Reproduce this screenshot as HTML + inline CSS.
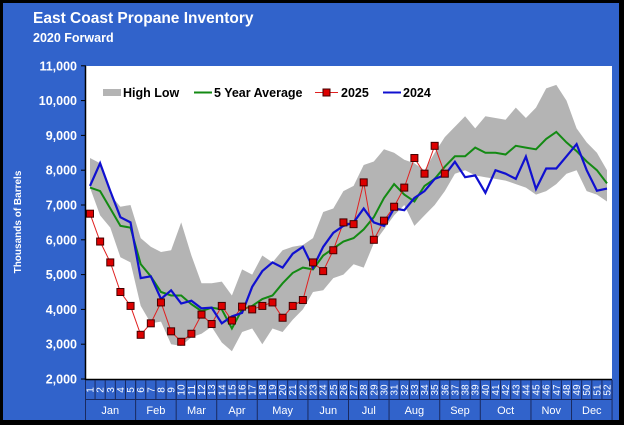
<!DOCTYPE html>
<html><head><meta charset="utf-8"><style>
html,body{margin:0;padding:0;background:#000;}
#c{position:absolute;left:0;top:0;width:624px;height:425px;}
</style></head><body>
<svg id="c" width="624" height="425" xmlns="http://www.w3.org/2000/svg" font-family="Liberation Sans, Arial, sans-serif">
<rect x="0" y="0" width="624" height="425" fill="#000"/>
<rect x="3" y="3" width="616" height="417" fill="#3163cb"/>
<text x="33" y="23" fill="#fff" font-size="15.5" font-weight="bold">East Coast Propane Inventory</text>
<text x="33" y="42" fill="#fff" font-size="12.5" font-weight="bold">2020 Forward</text>
<rect x="86" y="66" width="526" height="313" fill="#fff"/>
<g id="g"></g>
</svg>
<script>
var ns="http://www.w3.org/2000/svg",g=document.getElementById('g');
function el(t,a,txt){var e=document.createElementNS(ns,t);for(var k in a)e.setAttribute(k,a[k]);if(txt!=null)e.textContent=txt;g.appendChild(e);return e;}
function X(w){return 90+(w-1)*(517/51);}
function Y(v){return 379-(v-2)*34.8;}
var hi=[8.35,8.2,7.3,6.95,7.0,6.05,5.8,5.65,5.7,6.5,5.55,4.75,4.75,4.8,4.4,5.15,5.0,5.55,5.35,5.7,5.8,5.85,6.05,6.8,6.9,7.4,7.55,8.15,8.25,8.6,8.5,8.3,8.2,8.0,8.5,8.95,9.25,9.55,9.2,9.55,9.5,9.45,9.8,9.5,9.8,10.35,10.45,10.0,9.2,8.8,8.5,8.0];
var lo=[7.5,6.7,6.35,5.5,5.35,4.1,3.6,3.65,3.0,2.95,3.2,3.3,3.5,3.05,2.8,3.35,3.45,3.0,3.45,3.35,3.7,4.0,4.5,4.55,4.9,5.0,5.3,5.2,5.9,6.3,6.7,7.0,6.4,6.7,7.0,7.4,7.9,8.0,7.85,7.8,7.75,7.7,7.6,7.5,7.3,7.4,7.6,7.9,8.0,7.4,7.3,7.1];
var av=[7.5,7.4,6.9,6.4,6.35,5.3,4.95,4.5,4.4,4.4,4.15,3.95,4.05,4.0,3.45,4.0,4.1,4.3,4.4,4.75,5.05,5.2,5.15,5.55,5.75,5.95,6.05,6.3,6.65,7.2,7.6,7.3,7.1,7.55,7.75,8.1,8.4,8.4,8.65,8.5,8.5,8.45,8.7,8.65,8.6,8.9,9.1,8.8,8.55,8.25,8.0,7.62];
var r25=[6.75,5.95,5.35,4.5,4.1,3.27,3.6,4.2,3.37,3.07,3.3,3.85,3.58,4.1,3.68,4.08,4.0,4.1,4.2,3.76,4.1,4.27,5.35,5.1,5.7,6.5,6.45,7.65,6.0,6.55,6.95,7.5,8.35,7.9,8.7,7.9];
var b24=[7.55,8.2,7.4,6.65,6.5,4.9,4.95,4.3,4.55,4.17,4.25,4.03,4.05,3.6,3.8,3.9,4.65,5.1,5.35,5.2,5.6,5.8,5.2,5.8,6.2,6.4,6.5,6.9,6.5,6.4,6.9,6.85,7.2,7.4,7.75,7.86,8.24,7.8,7.85,7.35,8.0,7.9,7.75,8.39,7.46,8.05,8.05,8.4,8.75,8.0,7.41,7.47];
function pts(a){return a.map(function(v,i){return X(i+1).toFixed(1)+','+Y(v).toFixed(1);}).join(' ');}
var band=pts(hi)+' '+lo.map(function(v,i){return [i,v]}).reverse().map(function(p){return X(p[0]+1).toFixed(1)+','+Y(p[1]).toFixed(1)}).join(' ');
el('polygon',{points:band,fill:'#b4b4b4'});
el('polyline',{points:pts(av),fill:'none',stroke:'#138a13','stroke-width':2});
el('polyline',{points:pts(r25),fill:'none',stroke:'#e02020','stroke-width':1});
el('polyline',{points:pts(b24),fill:'none',stroke:'#1010d0','stroke-width':2.2});
r25.forEach(function(v,i){el('rect',{x:X(i+1)-3.5,y:Y(v)-3.5,width:7,height:7,fill:'#dd0000',stroke:'#400','stroke-width':1});});
// axes
el('line',{x1:85.5,y1:66,x2:85.5,y2:380,stroke:'#000','stroke-width':1.5});
for(var v=2;v<=11;v++){var y=Y(v);el('line',{x1:81,y1:y,x2:86,y2:y,stroke:'#000'});
el('text',{x:77,y:y+4.5,fill:'#fff','font-size':12.5,'font-weight':'bold','text-anchor':'end'},(v)+',000');}
el('text',{x:0,y:0,fill:'#fff','font-size':10,'font-weight':'bold','text-anchor':'middle',transform:'translate(21,222) rotate(-90)'},'Thousands of Barrels');
// x axis
el('line',{x1:85,y1:379.5,x2:612,y2:379.5,stroke:'#000','stroke-width':1.5});
var step=517/51;
for(var w=1;w<=52;w++){var xc=X(w);
el('line',{x1:xc+step/2,y1:380,x2:xc+step/2,y2:399,stroke:'#1a2a60','stroke-width':1});
el('text',{x:0,y:0,fill:'#fff','font-size':10,'text-anchor':'middle',transform:'translate('+(xc+3.5)+',390) rotate(-90)'},String(w));}
el('line',{x1:85,y1:399.5,x2:612,y2:399.5,stroke:'#1a2a60'});
var months=[['Jan',1,5],['Feb',6,9],['Mar',10,13],['Apr',14,17],['May',18,22],['Jun',23,26],['Jul',27,30],['Aug',31,35],['Sep',36,39],['Oct',40,44],['Nov',45,48],['Dec',49,52]];
months.forEach(function(m){var a=X(m[1])-step/2,b=X(m[2])+step/2;
el('line',{x1:b,y1:380,x2:b,y2:420,stroke:'#1a2a60'});
el('text',{x:(a+b)/2,y:414,fill:'#fff','font-size':11,'text-anchor':'middle'},m[0]);});
el('line',{x1:85.5,y1:380,x2:85.5,y2:420,stroke:'#1a2a60'});
// legend
el('rect',{x:103,y:89,width:18,height:7,fill:'#b4b4b4'});
el('text',{x:123,y:97,fill:'#000','font-size':12.5,'font-weight':'bold'},'High Low');
el('line',{x1:194,y1:92.5,x2:212,y2:92.5,stroke:'#138a13','stroke-width':2});
el('text',{x:214,y:97,fill:'#000','font-size':12.5,'font-weight':'bold'},'5 Year Average');
el('line',{x1:315,y1:92.5,x2:338,y2:92.5,stroke:'#e02020','stroke-width':1});
el('rect',{x:323,y:89,width:7,height:7,fill:'#dd0000',stroke:'#400'});
el('text',{x:341,y:97,fill:'#000','font-size':12.5,'font-weight':'bold'},'2025');
el('line',{x1:383,y1:92.5,x2:401,y2:92.5,stroke:'#1010d0','stroke-width':2});
el('text',{x:403,y:97,fill:'#000','font-size':12.5,'font-weight':'bold'},'2024');
</script>
</body></html>
